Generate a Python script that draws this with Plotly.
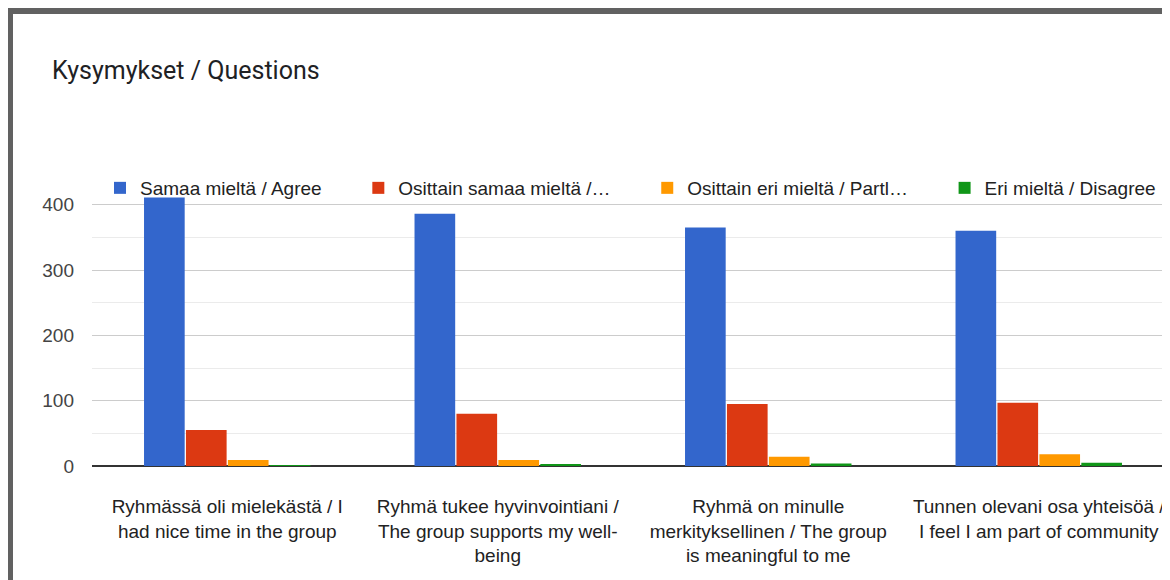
import plotly.graph_objects as go

categories = [
    "Ryhmässä oli mielekästä / I<br>had nice time in the group",
    "Ryhmä tukee hyvinvointiani /<br>The group supports my well-<br>being",
    "Ryhmä on minulle<br>merkityksellinen / The group<br>is meaningful to me",
    "Tunnen olevani osa yhteisöä /<br>I feel I am part of community",
]
series_names = [
    "Samaa mieltä / Agree",
    "Osittain samaa mieltä /…",
    "Osittain eri mieltä / Partl…",
    "Eri mieltä / Disagree",
]
agree = [411, 386, 365, 360]
partly_agree = [55, 80, 95, 97]
partly_disagree = [9, 9, 14, 18]
disagree = [1, 2, 4, 5]
series_values = [agree, partly_agree, partly_disagree, disagree]
colors = ["#3366cc", "#dc3912", "#ff9900", "#109618"]
y_ticks = [0, 100, 200, 300, 400]

FONT = "Arial, 'Liberation Sans', sans-serif"

fig = go.Figure()
for i, (name, vals, col) in enumerate(zip(series_names, series_values, colors)):
    # trailing non-breaking spaces widen the gap between legend entries
    label = name + ("\u00a0" * 6 if i < len(series_names) - 1 else "")
    fig.add_trace(go.Bar(x=categories, y=vals, name=label, marker_color=col,
                         marker_line_width=0))

# page is offset by the 8px body margin
OFF = 8
W, H = 1170 - OFF, 580 - OFF
L, R, T, B = 92 - OFF, 0, 172 - OFF, 580 - 466
pw = W - L - R
ph = H - T - B

def px_x(p):
    return (p - OFF - L) / pw

def px_y(p):
    return (H + OFF - B - p) / ph

fig.update_layout(
    width=W, height=H,
    margin=dict(l=L, r=R, t=T, b=B, pad=0),
    paper_bgcolor="white", plot_bgcolor="white",
    barmode="group", bargap=0.38, bargroupgap=0.03,
    font=dict(family=FONT, size=19, color="#222222"),
    title=dict(text="Kysymykset / Questions", xref="container", yref="container",
               x=(52 - OFF) / W, xanchor="left", y=1 - (70 - OFF) / H, yanchor="middle",
               font=dict(family="Roboto, Arial, sans-serif", size=25, color="#202124")),
    legend=dict(orientation="h", x=px_x(100), xanchor="left",
                y=px_y(188), yanchor="middle",
                bgcolor="rgba(0,0,0,0)",
                font=dict(family=FONT, size=19, color="#222222"), itemclick=False),
    showlegend=True,
    xaxis=dict(range=[-0.5, -0.5 + pw / 270.5], showgrid=False, showline=False, ticks="",
               tickangle=0,
               tickfont=dict(family=FONT, size=19, color="#222222"), ticklabelstandoff=27,
               fixedrange=True),
    yaxis=dict(range=[0, 450], tickvals=y_ticks, showgrid=True, gridcolor="#cccccc",
               gridwidth=1, zeroline=True, zerolinecolor="#333333", zerolinewidth=2,
               minor=dict(dtick=50, tick0=0, showgrid=True, gridcolor="#ebebeb", gridwidth=1),
               ticks="", tickfont=dict(family=FONT, size=19, color="#444444"),
               ticklabelstandoff=17, fixedrange=True),
    shapes=[dict(type="rect", xref="paper", yref="paper",
                 x0=px_x(10), x1=px_x(1400), y0=px_y(900), y1=px_y(11),
                 line=dict(color="#616161", width=6), fillcolor="rgba(0,0,0,0)", layer="above")],
)

fig.write_html("out.html")
